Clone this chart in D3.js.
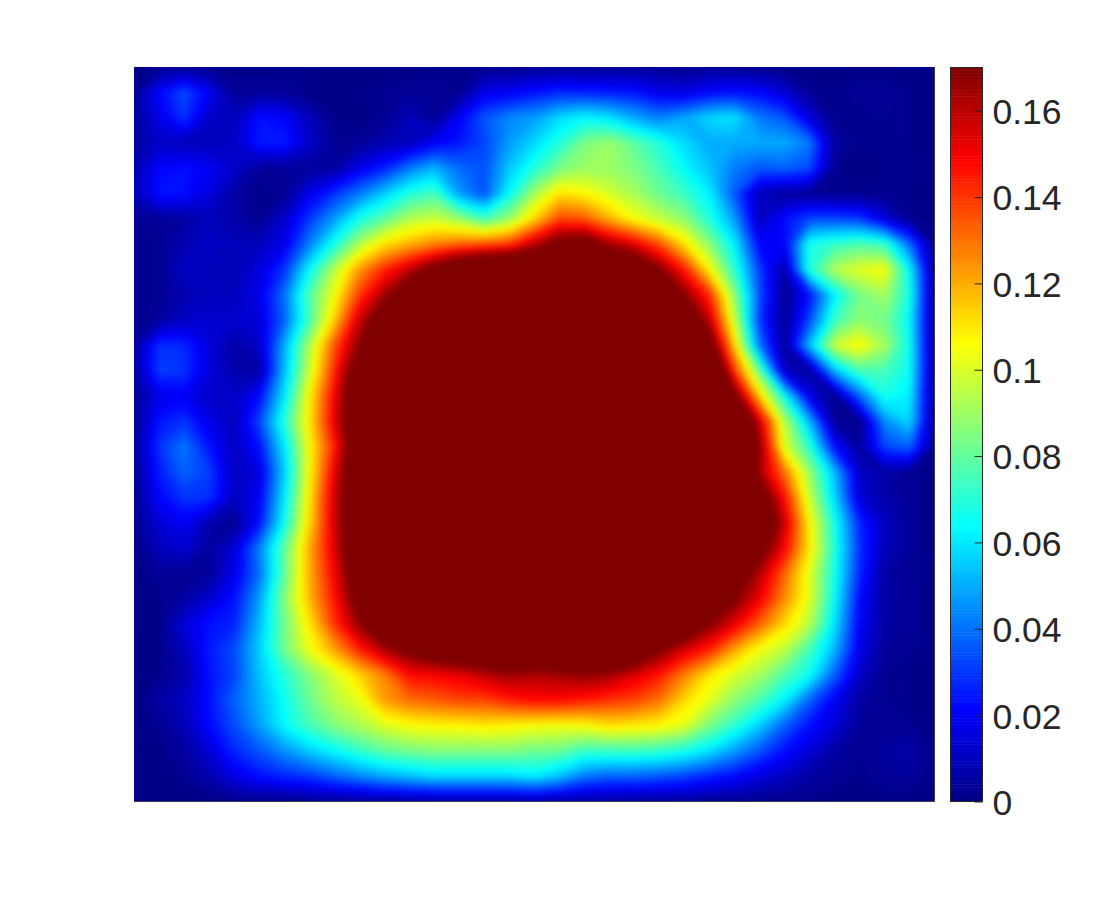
<!DOCTYPE html>
<html>
<head>
<meta charset="utf-8">
<script src="https://cdn.jsdelivr.net/npm/d3@7"></script>
<style>
  body { margin: 0; background: #fff; }
  .tick text { font-family: "Liberation Sans", sans-serif; font-size: 35.5px; fill: #262626; }
</style>
</head>
<body>
<svg id="chart" width="1120" height="900"></svg>
<script>
// values, in thousandths, top row first
const heatRows = [
  [1,2,3,2,2,2,2,2,1,1,1,1,2,2,2,2,3,3,3,3,3,3,3,3,2,2,1,1,1,1,1,1,1],
  [3,22,34,20,4,4,4,2,1,2,3,4,4,3,18,20,24,28,27,26,25,18,16,22,24,22,14,3,2,4,4,2,1],
  [4,18,30,13,10,24,22,10,2,1,3,10,3,20,36,44,48,58,64,60,50,43,50,58,60,42,36,16,2,2,3,2,1],
  [5,12,10,9,12,26,26,13,3,4,8,10,20,25,33,48,58,70,85,90,80,70,58,50,50,50,50,42,6,2,3,2,1],
  [8,22,24,20,13,4,4,5,5,18,27,42,52,40,35,55,70,84,90,90,85,76,64,54,42,36,38,34,3,1,2,3,1],
  [10,24,24,16,6,2,3,18,30,42,56,70,76,48,35,65,92,112,108,100,92,82,74,62,36,10,5,4,2,2,2,2,1],
  [3,4,6,10,7,3,13,31,48,68,80,94,98,90,76,90,114,138,135,120,106,97,88,70,48,10,24,34,34,32,16,3,1],
  [2,3,8,12,10,10,18,43,68,94,112,120,128,133,136,140,160,180,185,165,154,136,112,88,62,22,20,68,74,78,74,40,2],
  [2,3,12,10,9,16,30,64,95,124,143,160,180,200,215,220,225,225,225,215,195,172,145,108,72,32,6,70,94,102,106,64,3],
  [2,3,8,10,10,18,40,78,105,140,165,190,215,225,230,230,230,230,230,230,225,205,170,142,88,35,3,24,62,84,92,68,3],
  [2,5,12,14,13,15,38,76,115,158,188,218,230,230,230,230,230,230,230,230,230,225,195,160,98,32,3,34,74,88,84,64,3],
  [5,30,28,16,6,12,50,93,135,170,198,225,230,230,230,230,230,230,230,230,230,230,225,185,115,42,4,54,98,108,92,66,3],
  [5,32,30,16,7,6,53,98,142,190,222,230,230,230,230,230,230,230,230,230,230,230,230,225,140,82,12,5,52,76,76,66,3],
  [3,18,20,12,12,23,60,108,150,198,222,230,230,230,230,230,230,230,230,230,230,230,230,230,180,115,66,18,2,38,68,62,3],
  [3,25,30,18,10,33,70,110,152,198,222,230,230,230,230,230,230,230,230,230,230,230,230,230,212,158,95,52,4,2,45,58,3],
  [3,30,42,25,11,24,60,106,144,195,222,230,230,230,230,230,230,230,230,230,230,230,230,230,235,170,102,72,24,5,33,38,3],
  [3,26,38,32,11,16,56,106,152,198,222,230,230,230,230,230,230,230,230,230,230,230,230,230,225,165,130,90,53,12,6,3,1],
  [2,22,30,30,11,20,60,110,156,198,222,230,230,230,230,230,230,230,230,230,230,230,230,230,225,186,148,98,58,15,7,4,1],
  [2,15,20,8,2,24,66,113,156,198,222,230,230,230,230,230,230,230,230,230,230,230,230,230,225,205,158,108,68,28,11,4,1],
  [1,10,14,5,15,43,80,120,154,198,222,230,230,230,230,230,230,230,230,230,230,230,230,230,225,180,150,110,70,30,10,4,1],
  [1,4,3,4,18,40,80,120,150,190,222,230,230,230,230,230,230,230,230,230,230,230,230,222,185,162,133,102,68,28,6,3,1],
  [1,2,6,14,24,48,86,118,146,180,212,230,230,230,230,230,230,230,230,230,230,230,222,200,172,152,126,102,65,23,6,4,1],
  [1,1,16,24,27,53,83,110,140,168,200,222,230,230,230,230,230,230,230,230,230,222,200,170,153,133,113,95,60,21,6,4,1],
  [1,2,10,26,34,56,83,104,122,144,163,176,186,196,206,212,216,220,222,216,200,172,156,144,122,105,96,76,52,18,4,3,1],
  [1,2,7,24,33,54,70,86,100,114,128,148,150,153,160,166,162,165,168,165,155,146,128,111,100,92,78,66,38,12,3,2,1],
  [1,6,11,24,38,51,66,82,95,103,123,131,134,138,138,144,148,148,145,141,138,130,113,102,88,77,62,38,20,6,3,2,1],
  [1,3,9,23,34,48,64,76,86,93,101,106,108,108,110,108,106,105,106,112,110,108,102,85,72,56,38,24,15,4,3,3,1],
  [1,2,5,15,28,36,46,56,64,73,80,84,86,86,86,86,83,82,74,74,75,73,68,60,48,36,24,15,6,3,5,7,1],
  [1,1,3,8,17,24,28,31,38,44,50,54,58,58,58,58,62,54,42,38,38,36,33,27,23,16,11,6,4,2,4,5,1],
  [1,1,1,1,2,2,2,3,3,4,4,5,6,6,6,6,7,6,5,5,4,4,4,3,3,2,2,2,1,1,1,1,1]
];
const barTicks = [0, 0.02, 0.04, 0.06, 0.08, 0.1, 0.12, 0.14, 0.16];
const colorMax = 0.17;
const jetStops = [0, 0.125, 0.375, 0.625, 0.875, 1];
const jetColors = ["#000083", "#0000ff", "#00ffff", "#ffff00", "#ff0000", "#800000"];

const svg = d3.select("#chart");
const plot = { left: 134, right: 934.5, top: 67, bottom: 801.5 };
const bar = { left: 950.5, right: 982.5, top: 67.5, bottom: 801.5 };
const textColor = "#262626";

const nCols = heatRows[0].length;
const nRows = heatRows.length;

// contour coordinates put sample i at i + 0.5, first and last samples sit on the plot edges
const xScale = d3.scaleLinear().domain([0.5, nCols - 0.5]).range([plot.left, plot.right]);
const yScale = d3.scaleLinear().domain([0.5, nRows - 0.5]).range([plot.top, plot.bottom]);
const color = d3.scaleLinear()
  .domain(jetStops.map(d => d * colorMax))
  .range(jetColors)
  .clamp(true);

const defs = svg.append("defs");
defs.append("clipPath").attr("id", "plot-clip")
  .append("rect")
  .attr("x", plot.left)
  .attr("y", plot.top)
  .attr("width", plot.right - plot.left)
  .attr("height", plot.bottom - plot.top);
defs.append("filter").attr("id", "soften")
  .attr("filterUnits", "userSpaceOnUse")
  .attr("x", 0).attr("y", 0).attr("width", 1120).attr("height", 900)
  .attr("color-interpolation-filters", "sRGB")
  .append("feGaussianBlur").attr("stdDeviation", 3);

// heat map as stacked filled contours, one per 0.001
const contours = d3.contours()
  .size([nCols, nRows])
  .thresholds(d3.range(1, 171))(d3.merge(heatRows));

const path = d3.geoPath(d3.geoTransform({
  point(x, y) { this.stream.point(xScale(x), yScale(y)); }
}));

const heat = svg.append("g").attr("clip-path", "url(#plot-clip)")
  .append("g").attr("filter", "url(#soften)");
heat.append("rect")
  .attr("x", plot.left - 30)
  .attr("y", plot.top - 30)
  .attr("width", plot.right - plot.left + 60)
  .attr("height", plot.bottom - plot.top + 60)
  .attr("fill", color(0));
heat.selectAll("path")
  .data(contours)
  .enter()
  .append("path")
  .attr("d", path)
  .attr("fill", d => color(d.value / 1000));

// thin dark edge of the axes box
svg.append("path")
  .attr("d", `M${plot.left},${plot.bottom}H${plot.right}V${plot.top}`)
  .attr("fill", "none")
  .attr("stroke", textColor)
  .attr("stroke-opacity", 0.8);

// colorbar
const barScale = d3.scaleLinear().domain([0, colorMax]).range([bar.bottom, bar.top]);
const levels = d3.range(256).map(i => i / 256 * colorMax);
svg.append("g").selectAll("rect")
  .data(levels)
  .enter()
  .append("rect")
  .attr("x", bar.left)
  .attr("width", bar.right - bar.left)
  .attr("y", d => barScale(d + colorMax / 256))
  .attr("height", d => barScale(d) - barScale(d + colorMax / 256) + 0.5)
  .attr("fill", d => color(d + colorMax / 512));

const barAxis = svg.append("g")
  .attr("transform", `translate(${bar.right}, 0)`)
  .call(d3.axisRight(barScale)
    .tickValues(barTicks)
    .tickFormat(d => String(d))
    .tickSizeInner(-8)
    .tickSizeOuter(0)
    .tickPadding(10));
barAxis.select(".domain").remove();
barAxis.selectAll(".tick line").attr("stroke", textColor);
barAxis.selectAll(".tick text").attr("x", 10).attr("y", 1.5);

svg.append("rect")
  .attr("x", bar.left)
  .attr("y", bar.top)
  .attr("width", bar.right - bar.left)
  .attr("height", bar.bottom - bar.top)
  .attr("fill", "none")
  .attr("stroke", textColor);
</script>
</body>
</html>
